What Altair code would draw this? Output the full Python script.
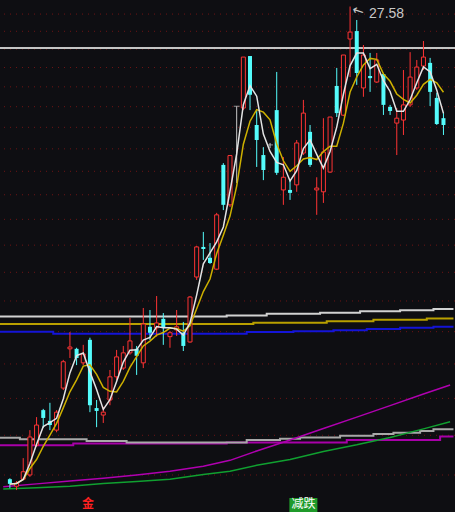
import altair as alt
import numpy as np
import pandas as pd

# ---- daily bars (price) ----
opens = [11.05, 10.90, 11.05, 11.14, 11.80, 12.63, 12.37, 12.15, 13.18, 14.22,
         14.22, 13.84, 14.47, 12.68, 12.51, 12.88, 13.47, 13.70, 14.11, 14.22,
         13.84, 14.84, 14.81, 15.07, 14.56, 14.75, 14.67, 14.41, 16.34, 17.32,
         16.96, 16.59, 20.30, 18.79, 22.74, 22.66, 25.06, 21.93, 20.69, 21.10,
         22.57, 19.34, 19.34, 19.53, 20.77, 21.64, 19.34, 19.27, 20.02, 23.65,
         22.35, 25.90, 26.30, 23.56, 24.11, 23.83, 24.20, 22.71, 22.01, 22.14,
         22.80, 23.56, 24.58, 24.73, 23.11, 22.22]
highs = [11.07, 11.01, 11.51, 12.15, 12.46, 12.66, 12.81, 12.63, 13.92, 14.69,
         14.25, 14.33, 14.53, 12.88, 12.71, 13.65, 14.19, 14.30, 15.10, 14.30,
         15.39, 15.33, 15.75, 15.24, 14.72, 15.33, 14.98, 15.75, 17.35, 17.83,
         17.45, 18.50, 20.37, 20.67, 22.74, 25.01, 25.06, 22.57, 21.01, 21.18,
         24.30, 20.61, 19.71, 21.30, 23.02, 21.93, 19.82, 22.22, 22.27, 24.49,
         25.11, 27.58, 26.87, 25.60, 25.21, 25.21, 24.25, 22.80, 22.66, 24.39,
         25.25, 24.87, 25.80, 24.97, 23.34, 22.44]
lows = [10.86, 10.82, 11.03, 11.10, 11.76, 12.20, 12.15, 12.10, 13.13, 13.97,
        13.78, 13.78, 12.58, 12.22, 12.32, 12.75, 13.39, 13.65, 14.06, 13.52,
        13.70, 14.47, 14.56, 14.33, 14.25, 14.58, 14.16, 14.39, 16.25, 16.89,
        16.76, 16.56, 18.60, 18.71, 19.60, 22.57, 22.57, 20.22, 19.71, 20.97,
        19.91, 18.79, 18.97, 19.27, 20.69, 20.22, 18.43, 18.86, 19.99, 22.27,
        22.31, 24.06, 23.70, 23.16, 23.38, 23.79, 22.36, 22.36, 20.69, 21.51,
        22.71, 23.47, 24.39, 22.75, 21.93, 21.51]
closes = [10.95, 10.97, 11.21, 11.99, 12.27, 12.44, 12.27, 12.58, 13.87, 14.27,
          13.97, 14.08, 12.75, 12.61, 12.58, 13.47, 14.00, 14.11, 14.44, 14.03,
          14.92, 14.67, 14.95, 14.81, 14.67, 14.84, 14.30, 15.72, 17.32, 17.25,
          16.79, 18.43, 18.79, 20.67, 22.74, 25.01, 23.25, 21.30, 20.10, 21.10,
          19.99, 19.82, 19.23, 21.18, 22.44, 20.30, 19.41, 20.81, 22.27, 22.44,
          25.11, 26.25, 24.25, 25.11, 24.01, 24.87, 22.80, 22.53, 22.22, 22.80,
          24.06, 24.53, 25.01, 23.38, 21.97, 21.93]

# ---- horizontal grid levels ----
grid_levels = [11.14, 12.03, 12.92, 13.81, 14.70, 15.60, 16.49, 17.38, 18.27, 19.16,
               20.05, 20.94, 21.83, 22.72, 23.61, 24.51, 25.40, 26.29, 27.18]
pressure_level = 25.45

# ---- long-period averages (stepped): first bar of each step and its value ----
lw_white_start = [-1, 33, 39, 47, 53, 59, 64]
lw_white_value = [15.14, 15.17, 15.22, 15.25, 15.29, 15.32, 15.36]
lw_yellow_start = [-1, 37, 48, 55, 63]
lw_yellow_value = [14.92, 14.96, 15.00, 15.04, 15.08]
lw_blue_start = [-1, 7, 36, 43, 49, 54, 59, 64]
lw_blue_value = [14.70, 14.64, 14.69, 14.71, 14.74, 14.78, 14.81, 14.84]
lm_gray_start = [-1, 2, 12, 18, 36, 41, 44, 50, 55, 58, 62, 64]
lm_gray_value = [11.97, 11.94, 11.90, 11.86, 11.92, 11.95, 11.98, 12.02, 12.06, 12.09, 12.13, 12.17]
lm_magenta_start = [-1, 10, 33, 51, 65]
lm_magenta_value = [11.80, 11.84, 11.86, 11.92, 12.00]

# ---- slow averages (sampled at bar index) ----
slow_idx = [-1, 4, 9, 14, 19, 24, 29, 33, 37, 42, 47, 52, 57, 62, 66]
slow_magenta = [10.89, 10.95, 11.01, 11.07, 11.14, 11.22, 11.33, 11.46, 11.67, 11.92,
                12.19, 12.46, 12.74, 13.03, 13.26]
slow_green = [10.84, 10.87, 10.90, 10.96, 11.00, 11.05, 11.15, 11.22, 11.35, 11.48,
              11.66, 11.81, 11.98, 12.18, 12.35]

# ---- signal markers ----
sig_idx = [12, 44]
sig_text = ["金", "减跌"]

BG = "#0e0e12"
RED = "#ff3434"
CYAN = "#54fcfc"
DOJI = "#c8c8c8"
W, H = 455, 512

df = pd.DataFrame({"i": range(len(closes)), "open": opens, "high": highs,
                   "low": lows, "close": closes})
df["ma3"] = df["close"].rolling(3, min_periods=1).mean()
df["ma5"] = df["close"].rolling(5, min_periods=1).mean()
df["top"] = df[["open", "close"]].max(axis=1)
df["bot"] = df[["open", "close"]].min(axis=1)

xs = alt.Scale(domain=[-0.733, 65.98], nice=False, zero=False)
ys = alt.Scale(type="log", domain=[10.37, 27.93], nice=False, zero=False)


def X(f):
    return alt.X(f"{f}:Q", scale=xs, axis=None)


def Y(f):
    return alt.Y(f"{f}:Q", scale=ys, axis=None)


grid = alt.Chart(pd.DataFrame({"p": grid_levels})).mark_rule(
    color="#6e1414", strokeWidth=1, strokeDash=[1, 5]
).encode(y=Y("p"))

press = alt.Chart(pd.DataFrame({"p": [pressure_level]})).mark_rule(
    color="#c4c4c4", strokeWidth=2
).encode(y=Y("p"))


def step_line(starts, values, color, width=2):
    pts = [s - 0.5 for s in starts] + [66.5]
    vals = list(values) + [values[-1]]
    d = pd.DataFrame({"i": pts, "v": vals})
    return alt.Chart(d).mark_line(
        interpolate="step-after", color=color, strokeWidth=width, clip=True
    ).encode(x=X("i"), y=Y("v"))


def smooth_line(idx, values, color, width=1.5):
    d = pd.DataFrame({"i": idx, "v": values})
    return alt.Chart(d).mark_line(color=color, strokeWidth=width, clip=True).encode(
        x=X("i"), y=Y("v"))


long_lines = [
    step_line(lw_white_start, lw_white_value, "#d2d2d2"),
    step_line(lw_yellow_start, lw_yellow_value, "#b9a000"),
    step_line(lw_blue_start, lw_blue_value, "#1414d8"),
    step_line(lm_magenta_start, lm_magenta_value, "#a800a8"),
    step_line(lm_gray_start, lm_gray_value, "#a8a8a8"),
    smooth_line(slow_idx, slow_magenta, "#b000b0"),
    smooth_line(slow_idx, slow_green, "#10a030"),
]

base = alt.Chart(df)
up = base.transform_filter("datum.close > datum.open")
down = base.transform_filter("datum.close < datum.open")
flat = base.transform_filter("datum.close == datum.open")

up_hi = up.mark_rule(color=RED, strokeWidth=1).encode(x=X("i"), y=Y("top"), y2="high")
up_lo = up.mark_rule(color=RED, strokeWidth=1).encode(x=X("i"), y=Y("low"), y2="bot")
up_body = up.mark_bar(width=4, fill=BG, stroke=RED, strokeWidth=1).encode(
    x=X("i"), y=Y("bot"), y2="top")

dn_wick = down.mark_rule(color=CYAN, strokeWidth=1).encode(x=X("i"), y=Y("low"), y2="high")
dn_body = down.mark_bar(width=4, color=CYAN).encode(x=X("i"), y=Y("bot"), y2="top")

fl_wick = flat.mark_rule(color=DOJI, strokeWidth=1).encode(x=X("i"), y=Y("low"), y2="high")
fl_body = flat.mark_tick(orient="horizontal", size=6, thickness=1, color=DOJI).encode(
    x=X("i"), y=Y("close"))

ma3 = base.mark_line(color="#e4e4e4", strokeWidth=1.5, clip=True).encode(x=X("i"), y=Y("ma3"))
ma5 = base.mark_line(color="#cdb000", strokeWidth=1.5, clip=True).encode(x=X("i"), y=Y("ma5"))

# highest price annotation
top_row = df.loc[[df["high"].idxmax()]].copy()
top_row["label"] = top_row["high"].map(lambda v: f"{v:.2f}")
arrow = alt.Chart(top_row).mark_text(
    text="←", color="#c8c8c8", fontSize=14, dx=9, dy=2, angle=18, font="DejaVu Sans"
).encode(x=X("i"), y=Y("high"))
hi_text = alt.Chart(top_row).mark_text(
    color="#c8c8c8", fontSize=14, align="left", baseline="middle", dx=19, dy=7,
    font="Liberation Sans"
).encode(x=X("i"), y=Y("high"), text="label:N")

# signal markers along the bottom edge
sig = pd.DataFrame({"i": sig_idx, "t": sig_text})
buy_sig = alt.Chart(sig.iloc[[0]]).mark_text(
    color="#ff2020", fontSize=12, baseline="bottom", dx=-2, font="Noto Sans CJK SC",
    fontWeight="bold"
).encode(x=X("i"), y=alt.value(511), text="t:N")
sell_df = sig.iloc[[1]].copy()
sell_df["l"] = sell_df["i"] - 2.1
sell_df["r"] = sell_df["i"] + 2.1
sell_box = alt.Chart(sell_df).mark_rect(color="#1f9a2a").encode(
    x=X("l"), x2="r", y=alt.value(498), y2=alt.value(512))
sell_txt = alt.Chart(sell_df).mark_text(
    color="#ffffff", fontSize=12, baseline="bottom", font="Noto Sans CJK SC"
).encode(x=X("i"), y=alt.value(511), text="t:N")

chart = alt.layer(
    grid, press, *long_lines,
    up_hi, up_lo, up_body, dn_wick, dn_body, fl_wick, fl_body,
    ma5, ma3, arrow, hi_text, buy_sig, sell_box, sell_txt,
).properties(
    width=W, height=H, background=BG, padding=0, autosize="none"
).configure_view(stroke=None)

chart.save("out.html", embed_options={"renderer": "svg", "actions": False})
